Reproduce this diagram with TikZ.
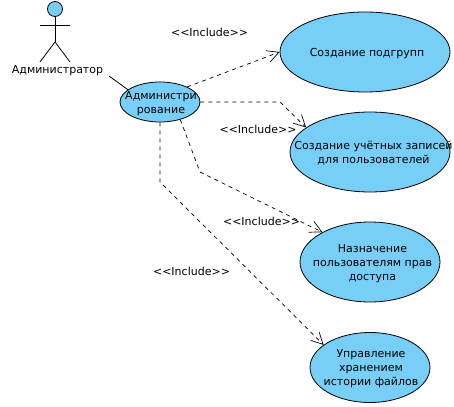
\documentclass[tikz,border=0pt]{standalone}
\usepackage{fontspec}
\setmainfont{DejaVu Sans}
\usetikzlibrary{arrows.meta,shapes.geometric}
\definecolor{casefill}{HTML}{77CEF7}
\newcommand{\caselabel}[2][0pt]{\makebox[0pt]{\hspace{#1}\raisebox{-4.2pt}[0pt][0pt]{\begin{tabular}{@{}c@{}}#2\end{tabular}}}}
\newcommand{\includetext}{<{}<{}Include>{}>}
\tikzset{
    usecase/.style={draw, ellipse, fill=casefill, inner sep=0pt, line width=0.8pt},
    include/.style={->, >={Straight Barb[length=11.5pt,width=12pt]}, dash pattern=on 4pt off 4pt, line width=0.7pt},
    limb/.style={line width=0.8pt}
}
\begin{document}
\begin{tikzpicture}[x=1pt, y=-1pt, font=\fontsize{11}{14}\selectfont]
    \useasboundingbox (0,0) rectangle (454,406);

    % Actor
    \node[draw, circle, fill=casefill, minimum size=15pt, inner sep=0pt, line width=0.8pt] (head) at (55,9) {};
    \coordinate (hip) at (55,42);
    \coordinate (armleft) at (40,25);
    \coordinate (armright) at (70,25);
    \coordinate (footleft) at (40,62);
    \coordinate (footright) at (70,62);
    \draw[limb] (head) -- (hip);
    \draw[limb] (armleft) -- (armright);
    \draw[limb] (footleft) -- (hip) -- (footright);
    \node (actor) at (57.5,70.3) {Администратор};
    \coordinate (actorlink) at (109,76);

    % Use cases
    \node[usecase, minimum width=80pt, minimum height=40pt] (admin) at (160,102) {\caselabel[2pt]{Администри\\рование}};
    \node[usecase, minimum width=170pt, minimum height=80pt] (subgroups) at (365,52) {\caselabel[4pt]{Создание подгрупп}};
    \node[usecase, minimum width=160pt, minimum height=80pt] (accounts) at (370,152) {\caselabel[7pt]{Создание учётных записей\\для пользователей}};
    \node[usecase, minimum width=140pt, minimum height=80pt] (rights) at (370,262) {\caselabel[5pt]{Назначение\\пользователям прав\\доступа}};
    \node[usecase, minimum width=120pt, minimum height=70pt] (history) at (370,367.5) {\caselabel[2pt]{Управление\\хранением\\истории файлов}};

    % Connectors
    \draw[limb] (actorlink) -- (admin.159);
    \draw[include] (admin.29) -- (subgroups.west);
    \draw[include] (admin.east) -- (280,102) -- (accounts.159);
    \draw[include] (admin.-41) -- (200,172) -- (rights.148);
    \draw[include] (admin.south) -- (160,182) -- (history.154);

    % Labels
    \node (includea) at (209.5,32) {\includetext};
    \node (includeb) at (258,129) {\includetext};
    \node (includec) at (261.5,221) {\includetext};
    \node (included) at (191.5,271) {\includetext};
\end{tikzpicture}
\end{document}
